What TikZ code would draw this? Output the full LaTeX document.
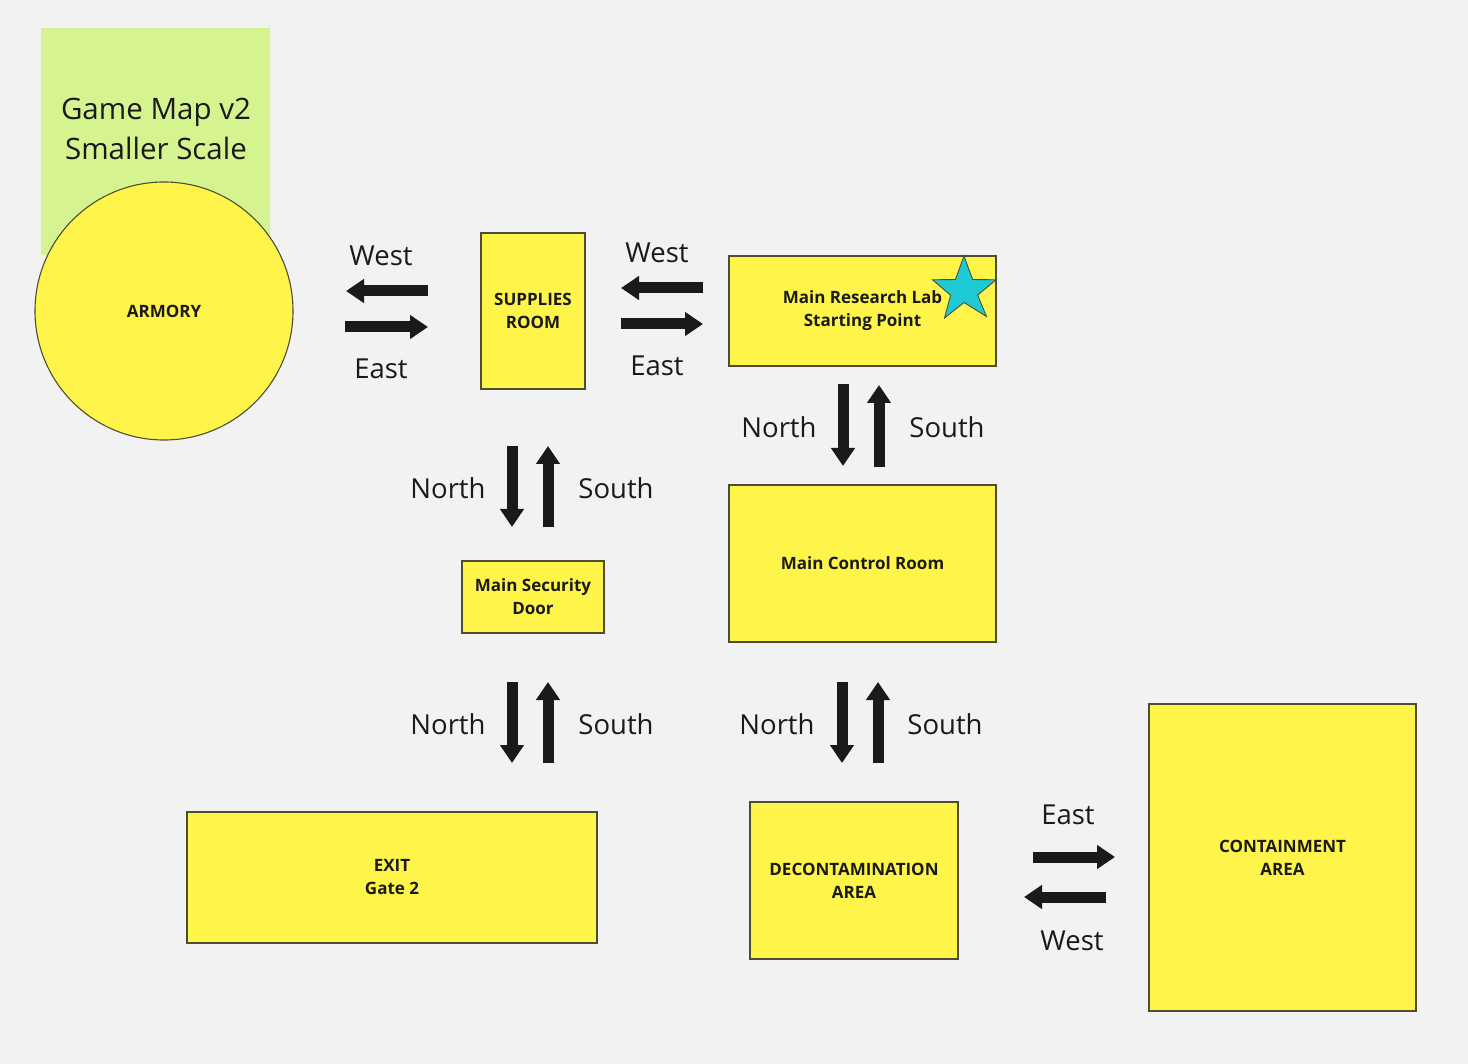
\documentclass[tikz,border=0pt]{standalone}
\usepackage{fontspec}
\setmainfont{Open Sans}
\usetikzlibrary{arrows.meta}
\definecolor{bg}{HTML}{F2F2F2}
\definecolor{sticky}{HTML}{D5F48F}
\definecolor{roomfill}{HTML}{FFF54A}
\definecolor{roomline}{HTML}{4D4D33}
\definecolor{ink}{HTML}{1A1A1A}
\definecolor{starfill}{HTML}{1ECAD3}
\tikzset{
  room/.style={draw=roomline, line width=1.1pt, fill=roomfill, inner sep=0pt,
    align=center, text=ink, font=\bfseries\fontsize{17}{23}\selectfont},
  dirlabel/.style={text=ink, inner sep=0pt, font=\fontsize{27.5}{31}\selectfont},
  bigarrow/.style={draw=ink, line width=11pt,
    -{Triangle[width=23pt,length=18pt]}, ink}
}
\begin{document}
\begin{tikzpicture}[x=1pt,y=-1pt]
\fill[bg] (0,0) rectangle (1468,1064);
\useasboundingbox (0,0) rectangle (1468,1064);
% sticky note
\fill[black!6] (43,31) rectangle (272,258);
\node[fill=sticky, minimum width=229pt, minimum height=227pt, inner sep=0pt, anchor=north west] (note) at (41,28) {};
\node[text=ink, align=center, font=\fontsize{29.5}{40}\selectfont] (notetext) at (156,129) {Game Map v2\\Smaller Scale};
% rooms
\node[room, circle, minimum size=258pt] (armory) at (164,311) {ARMORY};
\node[room, minimum width=104pt, minimum height=156pt] (supplies) at (533,311) {SUPPLIES\\ROOM};
\node[room, minimum width=267pt, minimum height=110pt] (lab) at (862.5,311) {Main Research Lab\\Starting Point};
\node[room, minimum width=267pt, minimum height=157pt] (control) at (862.5,563.5) {Main Control Room};
\node[room, minimum width=142pt, minimum height=72pt] (security) at (533,597) {Main Security\\Door};
\node[room, minimum width=410pt, minimum height=131pt] (exit) at (392,877.5) {EXIT\\Gate 2};
\node[room, minimum width=208pt, minimum height=157pt] (decon) at (854,880.5) {DECONTAMINATION\\AREA};
\node[room, minimum width=267pt, minimum height=307pt] (contain) at (1282.5,857.5) {CONTAINMENT\\AREA};
% star
\draw[roomline, line width=0.9pt, fill=starfill]
  (964,256) -- (972.6,279.5) -- (996,279.8) -- (977.6,295.2) -- (986.5,316.5)
  -- (964,302.5) -- (944.5,318) -- (950.6,295.2) -- (932.5,279.8) -- (955.4,279.5) -- cycle;
% arrow endpoints
\coordinate (a1t) at (428,291); \coordinate (a1h) at (346,291);
\coordinate (a2t) at (345,327); \coordinate (a2h) at (428,327);
\coordinate (b1t) at (703,288); \coordinate (b1h) at (621,288);
\coordinate (b2t) at (621,324); \coordinate (b2h) at (703,324);
\coordinate (c1t) at (843,384); \coordinate (c1h) at (843,466);
\coordinate (c2t) at (879,467); \coordinate (c2h) at (879,385);
\coordinate (d1t) at (512,446); \coordinate (d1h) at (512,527);
\coordinate (d2t) at (548,527); \coordinate (d2h) at (548,446);
\coordinate (e1t) at (512,682); \coordinate (e1h) at (512,763);
\coordinate (e2t) at (548,763); \coordinate (e2h) at (548,682);
\coordinate (f1t) at (842,682); \coordinate (f1h) at (842,763);
\coordinate (f2t) at (878,763); \coordinate (f2h) at (878,682);
\coordinate (g1t) at (1033,857); \coordinate (g1h) at (1115,857);
\coordinate (g2t) at (1106,897); \coordinate (g2h) at (1024,897);
\foreach \p in {a1,a2,b1,b2,c1,c2,d1,d2,e1,e2,f1,f2,g1,g2}
  \draw[bigarrow] (\p t) -- (\p h);
% labels
\node[dirlabel] (lw1) at (381,256) {West};
\node[dirlabel] (le1) at (381,369) {East};
\node[dirlabel] (lw2) at (657,253) {West};
\node[dirlabel] (le2) at (657,366) {East};
\node[dirlabel] (ln1) at (779,427) {North};
\node[dirlabel] (ls1) at (947,427) {South};
\node[dirlabel] (ln2) at (448,488) {North};
\node[dirlabel] (ls2) at (616,488) {South};
\node[dirlabel] (ln3) at (448,724) {North};
\node[dirlabel] (ls3) at (616,724) {South};
\node[dirlabel] (ln4) at (777,724) {North};
\node[dirlabel] (ls4) at (945,724) {South};
\node[dirlabel] (le3) at (1068,815) {East};
\node[dirlabel] (lw3) at (1072,941) {West};
\end{tikzpicture}
\end{document}
